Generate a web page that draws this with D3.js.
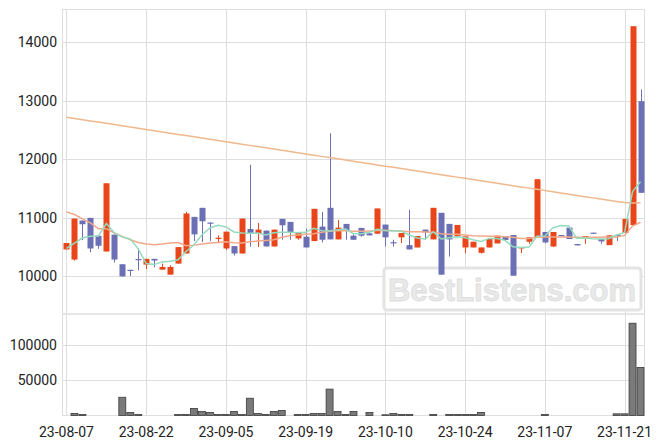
<!DOCTYPE html>
<html><head><meta charset="utf-8">
<script src="https://cdn.jsdelivr.net/npm/d3@7"></script>
<style>body{margin:0;background:#fff}svg{display:block}</style>
</head><body>
<svg id="c" width="663" height="444"></svg>
<script>
const dates=["23-08-07","23-08-08","23-08-09","23-08-10","23-08-11","23-08-14","23-08-16","23-08-17","23-08-18","23-08-21",
"23-08-22","23-08-23","23-08-24","23-08-25","23-08-28","23-08-29","23-08-30","23-08-31","23-09-01","23-09-04",
"23-09-05","23-09-06","23-09-07","23-09-08","23-09-11","23-09-12","23-09-13","23-09-14","23-09-15","23-09-18",
"23-09-19","23-09-20","23-09-21","23-09-22","23-09-25","23-09-26","23-09-27","23-10-04","23-10-05","23-10-06",
"23-10-10","23-10-11","23-10-12","23-10-13","23-10-16","23-10-17","23-10-18","23-10-19","23-10-20","23-10-23",
"23-10-24","23-10-25","23-10-26","23-10-27","23-10-30","23-10-31","23-11-01","23-11-02","23-11-03","23-11-06",
"23-11-07","23-11-08","23-11-09","23-11-10","23-11-13","23-11-14","23-11-15","23-11-16","23-11-17","23-11-20",
"23-11-21","23-11-22","23-11-23"];
const opens=[10460,10287,10954,11000,10695,10425,10713,10207,10112,10296,
10201,10299,10115,10029,10218,10391,11017,11172,10920,10650,
10477,10517,10391,10810,10736,10782,10511,10983,10931,10649,
10678,10603,10851,11172,10632,10897,10695,10828,10736,10730,
10885,10585,10667,10534,10494,10799,10632,11086,10897,10684,
10494,10494,10402,10494,10563,10690,10707,10477,10592,10667,
10759,10511,10707,10833,10552,10649,10747,10638,10534,10707,
10741,10877,12996];
const highs=[10570,10990,10954,11000,10695,11592,10713,10207,10112,10483,
10299,10299,10218,10190,10500,11103,11017,11172,10920,10701,
10764,10517,10988,11908,10914,10782,10799,10983,10931,10759,
10816,11155,11103,12444,10966,10897,10718,10828,10736,11161,
10885,10626,10741,11138,10690,10799,11172,11086,10897,10879,
10684,10592,10494,10638,10695,10690,10707,10500,10667,11661,
10759,10759,10707,10833,10552,10690,10747,10638,10701,10718,
10983,14278,13196];
const lows=[10460,10270,10621,10414,10471,10425,10236,9995,10006,10103,
10126,10155,10115,10029,10218,10391,10603,10586,10603,10569,
10454,10356,10391,10511,10500,10511,10511,10626,10626,10626,
10494,10603,10580,10632,10632,10626,10626,10678,10701,10730,
10511,10511,10569,10460,10494,10626,10632,10029,10339,10684,
10397,10494,10390,10494,10563,10621,10011,10397,10557,10667,
10563,10500,10695,10638,10529,10557,10736,10557,10534,10603,
10741,10877,11429];
const closes=[10570,10988,10891,10477,10523,11592,10287,10000,10106,10290,
10299,10270,10161,10161,10500,11075,10718,10942,10905,10660,
10764,10391,10988,10736,10799,10511,10799,10874,10759,10759,
10494,11155,10626,10632,10833,10782,10626,10695,10701,11161,
10667,10575,10741,10460,10690,10753,11172,10029,10632,10879,
10684,10592,10494,10638,10695,10621,10011,10500,10667,11661,
10580,10759,10695,10638,10529,10690,10736,10598,10701,10695,
10983,14278,11429];
const volumes=[0,2900,1400,0,0,0,0,25800,4300,1400,
0,0,0,0,1400,1400,10000,5700,4300,1400,
1400,5700,1400,24400,2900,1400,5700,7200,0,1400,
1400,2900,2900,37300,5700,1400,5700,0,4300,0,
1000,2900,1400,1400,0,0,1400,0,1400,1400,
1400,1400,4300,0,0,0,0,0,0,0,
1400,0,0,0,0,0,0,0,0,2400,
2400,130500,68000];
const ma5=[10477,10569,10655,10684,10690,10902,10745,10672,10638,10470,
10218,10201,10247,10259,10282,10425,10540,10713,10828,10874,
10845,10759,10741,10736,10741,10707,10747,10753,10753,10747,
10753,10822,10782,10776,10799,10810,10730,10730,10753,10805,
10782,10776,10770,10707,10655,10638,10764,10638,10661,10678,
10661,10626,10598,10649,10649,10615,10505,10494,10500,10685,
10690,10830,10870,10860,10650,10655,10643,10637,10643,10706,
10750,11450,11617];
const ma20=[11103,11057,10983,10914,10816,10816,10741,10684,10626,10580,
10552,10540,10552,10569,10580,10523,10534,10552,10569,10580,
10592,10575,10569,10592,10603,10615,10626,10667,10695,10707,
10718,10730,10753,10770,10782,10782,10770,10770,10776,10782,
10787,10782,10776,10764,10764,10759,10753,10730,10718,10718,
10707,10695,10690,10684,10684,10678,10667,10649,10649,10667,
10672,10672,10672,10672,10667,10667,10667,10667,10672,10672,
10700,10860,10925];
const maLong=[12722,12700,12680,12658,12638,12617,12596,12575,12553,12532,
12512,12490,12470,12449,12428,12407,12386,12365,12344,12324,
12303,12282,12261,12240,12219,12198,12177,12156,12136,12115,
12094,12073,12052,12031,12010,11990,11969,11948,11927,11906,
11885,11864,11843,11822,11802,11781,11760,11739,11718,11697,
11676,11655,11634,11614,11593,11572,11551,11530,11509,11488,
11467,11446,11426,11405,11384,11363,11342,11321,11300,11280,
11262,11255,11258];
const priceTicks=[10000,11000,12000,13000,14000];
const volumeTicks=[50000,100000];
const dateTicks=["23-08-07","23-08-22","23-09-05","23-09-19","23-10-10","23-10-24","23-11-07","23-11-21"];

const RED="#e8461a", BLUE="#6b6fb4", GRID="#dedede";
const L=62.5, R=644.5, T=9.5, MID=314, B=415.5;
const svg=d3.select("#c");
const x=d3.scaleBand().domain(dates).range([L,R]).padding(0);
const cx=d=>x(d)+x.bandwidth()/2;
const y=d3.scaleLinear().domain([9356,14564]).range([MID,T]);
const yv=d3.scaleLinear().domain([0,143500]).range([B,MID]);
const font="Roboto, 'Noto Sans', sans-serif";

// grid
const g=svg.append("g");
g.selectAll(".hp").data(priceTicks).join("line")
  .attr("x1",L).attr("x2",R).attr("y1",d=>Math.round(y(d))+0.5).attr("y2",d=>Math.round(y(d))+0.5)
  .attr("stroke",GRID);
g.selectAll(".hv").data(volumeTicks).join("line")
  .attr("x1",L).attr("x2",R).attr("y1",d=>Math.round(yv(d))+0.5).attr("y2",d=>Math.round(yv(d))+0.5)
  .attr("stroke",GRID);
g.selectAll(".vx").data(dateTicks).join("line")
  .attr("x1",d=>Math.round(cx(d))+0.5).attr("x2",d=>Math.round(cx(d))+0.5).attr("y1",T).attr("y2",B)
  .attr("stroke",GRID);
g.append("rect").attr("x",L).attr("y",T).attr("width",R-L).attr("height",MID-T).attr("fill","none").attr("stroke",GRID);
g.append("rect").attr("x",L).attr("y",MID).attr("width",R-L).attr("height",B-MID).attr("fill","none").attr("stroke",GRID);

// watermark
const wm=svg.append("g");
wm.append("rect").attr("x",384).attr("y",268).attr("width",257).attr("height",42).attr("rx",3)
  .attr("fill","#fff").attr("stroke","#e3e3e3").attr("stroke-width",3);
wm.append("text").attr("x",512).attr("y",301).attr("text-anchor","middle")
  .attr("font-family","'Liberation Sans', Arial, sans-serif").attr("font-weight","bold").attr("font-size",31)
  .attr("fill","#e9e9e9").attr("stroke","#dcdcdc").attr("stroke-width",0.8).text("BestListens.com");

// axes labels
const ax=svg.append("g").attr("font-family",font).attr("font-size",14).attr("fill","#222");
ax.selectAll(".py").data(priceTicks).join("text").attr("x",57).attr("y",d=>y(d)).attr("dy","0.35em")
  .attr("text-anchor","end").text(d=>d);
ax.selectAll(".vy").data(volumeTicks).join("text").attr("x",57).attr("y",d=>yv(d)).attr("dy","0.35em")
  .attr("text-anchor","end").text(d=>d);
ax.selectAll(".dx").data(dateTicks).join("text").attr("x",d=>cx(d)).attr("y",432).attr("dy","0.35em")
  .attr("text-anchor","middle").text(d=>d);

// volume
svg.append("g").selectAll("rect").data(dates.map((d,i)=>({d,v:volumes[i]})).filter(o=>o.v>0)).join("rect")
  .attr("x",o=>x(o.d)+0.5).attr("width",x.bandwidth()-1)
  .attr("y",o=>yv(o.v)).attr("height",o=>B-yv(o.v))
  .attr("fill","#7a7a7a").attr("stroke","#3c3c3c").attr("stroke-width",0.8);

// candles
const rows=dates.map((d,i)=>({d,o:opens[i],h:highs[i],l:lows[i],c:closes[i]}));
const cg=svg.append("g");
cg.selectAll("line").data(rows).join("line")
  .attr("x1",r=>Math.round(cx(r.d))+0.5).attr("x2",r=>Math.round(cx(r.d))+0.5)
  .attr("y1",r=>y(r.h)).attr("y2",r=>y(r.l))
  .attr("stroke",r=>r.c>=r.o?RED:BLUE).attr("stroke-width",1);
cg.selectAll("rect").data(rows).join("rect")
  .attr("x",r=>Math.round(cx(r.d))-2.5).attr("width",6)
  .attr("y",r=>y(Math.max(r.o,r.c))).attr("height",r=>Math.max(1.2,Math.abs(y(r.o)-y(r.c))))
  .attr("fill",r=>r.c>=r.o?RED:BLUE);

// moving averages
const line=arr=>d3.line().x((v,i)=>cx(dates[i])).y(v=>y(v))(arr);
svg.append("path").attr("d",line(maLong)).attr("fill","none").attr("stroke","#f0b88c").attr("stroke-width",1.5);
svg.append("path").attr("d",line(ma20)).attr("fill","none").attr("stroke","#f2a88a").attr("stroke-width",1.5);
svg.append("path").attr("d",line(ma5)).attr("fill","none").attr("stroke","#93dcbd").attr("stroke-width",1.5);
</script>
</body></html>
